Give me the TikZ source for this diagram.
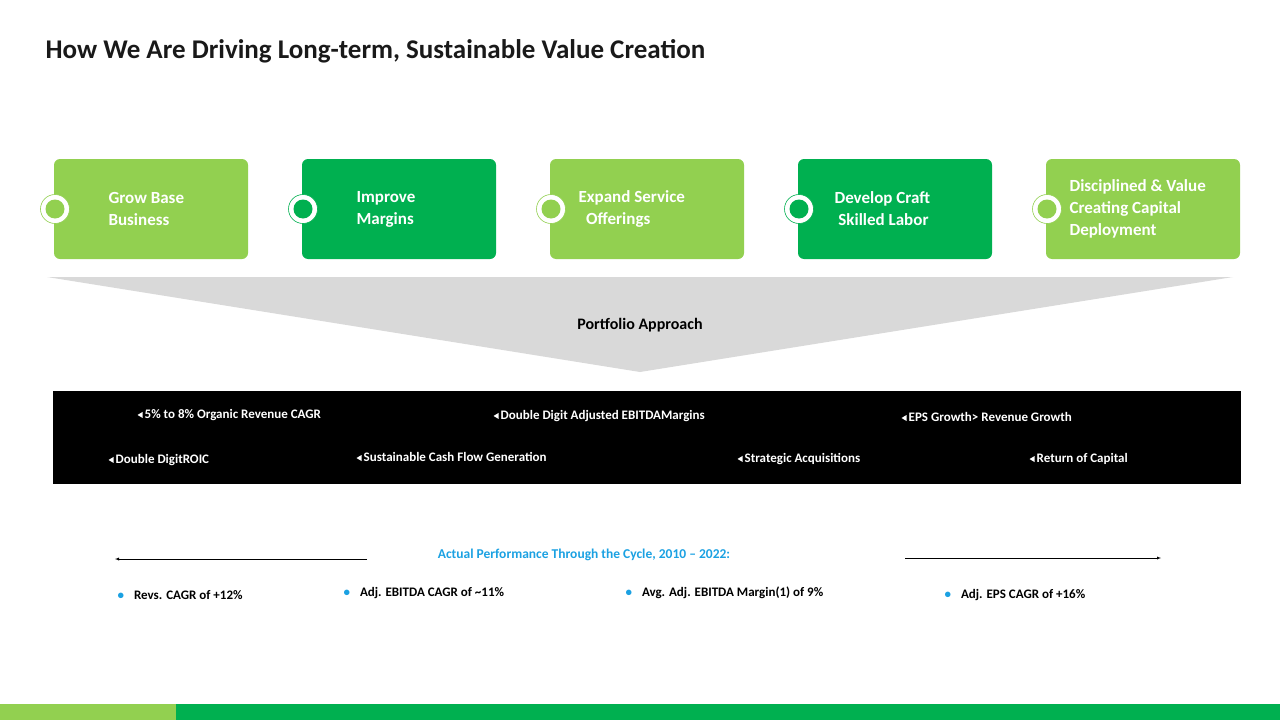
\documentclass[tikz,border=0pt]{standalone}
\usepackage{fontspec}
\setmainfont{Carlito}
\usepackage{xcolor}
\definecolor{lightgreen}{HTML}{92D050}
\definecolor{darkgreen}{HTML}{00B050}
\definecolor{lightgray}{HTML}{D9D9D9}
\definecolor{skyblue}{HTML}{1BA1E2}
\tikzset{
    pillar/.style={rounded corners=6pt, minimum width=194pt, minimum height=100pt, inner sep=0pt},
    pillartext/.style={white, font=\fontsize{17}{22}\selectfont\bfseries, align=left, anchor=west},
    band/.style={white, font=\fontsize{13}{15}\selectfont\bfseries, anchor=west},
    stat/.style={font=\fontsize{13}{15}\selectfont\bfseries, anchor=west},
}
\newcommand{\tri}{\raisebox{0.5pt}{\tikz\fill[white] (0,0) -- (5pt,3pt) -- (5pt,-3pt) -- cycle;}\,}
\newcommand{\bul}{{\color{skyblue}\textbullet}\hspace{10pt}}
\begin{document}
\begin{tikzpicture}[x=1pt, y=-1pt]
    \useasboundingbox (0,0) rectangle (1280,720);
    \node[anchor=west, font=\fontsize{27}{30}\selectfont\bfseries, text=black!90] (title) at (42,51) {How We Are Driving Long-term, Sustainable Value Creation};
    % pillars
    \foreach \x/\col/\txt/\tx [count=\i] in {
        151/lightgreen/{Grow Base\\Business}/105,
        399/darkgreen/{Improve\\Margins}/353,
        647/lightgreen/{Expand Service\\\ \ Offerings}/575,
        895/darkgreen/{Develop Craft\\\ Skilled Labor}/831,
        1143/lightgreen/{Disciplined \& Value\\Creating Capital\\Deployment}/1066} {
        \node[pillar, fill=\col] (p\i) at (\x,209) {};
        \node[pillartext] (t\i) at (\tx,209) {\txt};
        \fill[white, draw=\col, line width=0.6pt] (\x-96,209) circle (14.5);
        \fill[\col] (\x-96,209) circle (9.5);
    }
    % funnel
    \fill[lightgray] (47,277) -- (1233,277) -- (640,372) -- cycle;
    \node[font=\fontsize{16}{18}\selectfont\bfseries] (funnel) at (640,325) {Portfolio Approach};
    % targets
    \fill[black] (53,391) rectangle (1241,484);
    \node[band] (b1) at (134,415) {\tri5\% to 8\% Organic Revenue CAGR};
    \node[band] (b2) at (490,416) {\tri Double Digit Adjusted EBITDAMargins};
    \node[band] (b3) at (898,417) {\tri EPS Growth> Revenue Growth};
    \node[band] (b4) at (105,460) {\tri Double DigitROIC};
    \node[band] (b5) at (353,457) {\tri Sustainable Cash Flow Generation};
    \node[band] (b6) at (734,459) {\tri Strategic Acquisitions};
    \node[band] (b7) at (1026,459) {\tri Return of Capital};
    % performance
    \node[font=\fontsize{13.5}{15}\selectfont\bfseries, text=skyblue] (perf) at (584,555) {Actual Performance Through the Cycle, 2010 -- 2022:};
    \coordinate (la) at (115,559);
    \coordinate (ra) at (1161,558);
    \draw[-latex, thin] (367,559) -- (la);
    \draw[-latex, thin] (905,558) -- (ra);
    \node[stat] (s1) at (114,595) {\bul Revs. CAGR of +12\%};
    \node[stat] (s2) at (340,593) {\bul Adj. EBITDA CAGR of \textasciitilde11\%};
    \node[stat] (s3) at (622,593) {\bul Avg. Adj. EBITDA Margin(1) of 9\%};
    \node[stat] (s4) at (941,595) {\bul Adj. EPS CAGR of +16\%};
    % footer
    \fill[lightgreen] (0,704) rectangle (176,720);
    \fill[darkgreen] (176,704) rectangle (1280,720);
\end{tikzpicture}
\end{document}
